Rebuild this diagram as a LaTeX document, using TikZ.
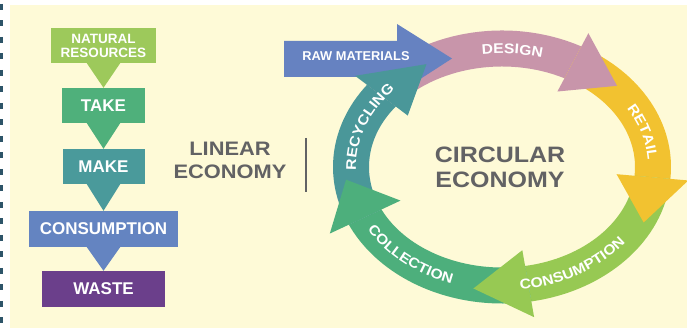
\documentclass[tikz,border=0pt]{standalone}
\usepackage{fontspec}
\setmainfont{Liberation Sans}
\newfontfamily\headfont{Liberation Sans}[FakeStretch=1.12]
\usetikzlibrary{calc,decorations.text}

\definecolor{paper}{HTML}{FEFAD7}
\definecolor{edgeblue}{HTML}{2D5468}
\definecolor{cNat}{HTML}{9DC95B}
\definecolor{cTake}{HTML}{4FB07B}
\definecolor{cMake}{HTML}{4A9A9B}
\definecolor{cCons}{HTML}{6484C1}
\definecolor{cWaste}{HTML}{6B3F8B}
\definecolor{cDesign}{HTML}{C895AA}
\definecolor{cRetail}{HTML}{F2C230}
\definecolor{cUse}{HTML}{97C953}
\definecolor{cCollect}{HTML}{4DAF7C}
\definecolor{cRecycle}{HTML}{4A9799}
\definecolor{cRaw}{HTML}{6682C1}
\definecolor{headgray}{HTML}{626264}

% ring radii (in pt): outer, middle, inner
\newcommand\Rxo{169}\newcommand\Ryo{136.5}
\newcommand\Rxm{151}\newcommand\Rym{118.5}
\newcommand\Rxi{133}\newcommand\Ryi{100.5}

\newcommand\labelfont{\headfont\bfseries\fontsize{14pt}{14pt}\selectfont}

% down-pointing wedge below a stage box, tip on the next box
% #1 colour, #2 upper node, #3 lower node
\newcommand\pointer[3]{%
  \fill[#1] ($(#2.south)+(-17,0.5)$) -- ($(#2.south)+(17,0.5)$) -- (#3.north) -- cycle;}

% band of the ring, running clockwise from #3 to #4
% #1 colour, #2 name, #3 start angle, #4 end angle
\newcommand\ringbody[4]{%
  \fill[#1] ({\Rxo*cos(#3)},{\Ryo*sin(#3)}) arc[start angle=#3, end angle=#4, x radius=\Rxo, y radius=\Ryo]
    -- ({\Rxi*cos(#4)},{\Ryi*sin(#4)}) arc[start angle=#4, end angle=#3, x radius=\Rxi, y radius=\Ryi] -- cycle;
  \coordinate (#2-o) at ({\Rxo*cos(#4)},{\Ryo*sin(#4)});
  \coordinate (#2-i) at ({\Rxi*cos(#4)},{\Ryi*sin(#4)});
  \coordinate (#2-m) at ({\Rxm*cos(#4)},{\Rym*sin(#4)});}

% arrowhead at the end of a band
% #1 colour, #2 name, #3 barb overhang, #4 turn of the tip, #5 tip length
\newcommand\ringhead[5]{%
  \coordinate (#2-tip) at ($(#2-m)!#5!#4:(#2-o)$);
  \fill[#1] (#2-o) -- ($(#2-o)!-#3!(#2-i)$) -- (#2-tip) -- ($(#2-i)!-#3!(#2-o)$) -- (#2-i) -- cycle;}

% white label set along an elliptic arc
% #1 text, #2 start angle, #3 end angle, #4 x radius, #5 y radius
\newcommand\ringlabel[5]{%
  \path[decorate, decoration={text along path, text align=center,
      text={|\color{white}\labelfont|#1}}]
    ({#4*cos(#2)},{#5*sin(#2)}) arc[start angle=#2, end angle=#3, x radius=#4, y radius=#5];}

\begin{document}
\begin{tikzpicture}[x=1pt, y=1pt,
  stage/.style={fill=#1, text=white, inner sep=0pt, align=center,
    minimum height=35pt, font=\bfseries\fontsize{17pt}{17pt}\selectfont},
  heading/.style={text=headgray, inner sep=0pt, align=center}]
\useasboundingbox (0,0) rectangle (687,328);
\fill[white] (0,0) rectangle (687,328);
\fill[paper] (10,0) rectangle (687,323);
\draw[edgeblue, line width=3pt, dash pattern=on 6pt off 10.5pt] (1.5,324) -- (1.5,0);

% linear economy chain
\node[stage=cNat, minimum width=105pt,
  font=\bfseries\fontsize{13.5pt}{14pt}\selectfont] (nat) at (103.5,282.5) {NATURAL\\RESOURCES};
\node[stage=cTake, minimum width=83pt] (take) at (103.5,222.5) {TAKE};
\node[stage=cMake, minimum width=82pt] (make) at (103.5,161.5) {MAKE};
\node[stage=cCons, minimum width=149pt, minimum height=36pt] (cons) at (103.5,99) {CONSUMPTION};
\node[stage=cWaste, minimum width=123pt, minimum height=36pt] (waste) at (103.5,39) {WASTE};
\pointer{cNat}{nat}{take}
\pointer{cTake}{take}{make}
\pointer{cMake}{make}{cons}
\pointer{cCons}{cons}{waste}

% headings and divider
\node[heading, font=\headfont\bfseries\fontsize{19.5pt}{23pt}\selectfont] (linear) at (230,167.5) {LINEAR\\ECONOMY};
\coordinate (divtop) at (306,190);
\coordinate (divbot) at (306,136);
\draw[headgray, line width=2pt] (divtop) -- (divbot);
\node[heading, font=\headfont\bfseries\fontsize{22.3pt}{25pt}\selectfont] (circular) at (500,160.5) {CIRCULAR\\ECONOMY};

% circular economy ring
\begin{scope}[shift={(502,161)}]
\ringbody{cDesign}{design}{143}{62}
\ringbody{cRetail}{retail}{62}{-5}
\ringbody{cUse}{use}{-5}{-80}
\ringbody{cCollect}{collect}{-80}{-155}
\ringbody{cRecycle}{recycle}{205}{143}
\end{scope}

% raw materials feed
\fill[cRaw] (284,251) -- (397,251) -- (397,234) -- (452,269.5) -- (397,304) -- (397,287) -- (284,287) -- cycle;
\node[font=\bfseries\fontsize{12.8pt}{12.8pt}\selectfont, text=white, inner sep=0pt] (rawtext) at (356,271.5) {RAW MATERIALS};

\ringhead{cDesign}{design}{15pt}{-90}{50pt}
\ringhead{cRetail}{retail}{18pt}{-96}{46pt}
\ringhead{cUse}{use}{16pt}{-95}{55pt}
\ringhead{cCollect}{collect}{21pt}{-88}{42pt}
\ringhead{cRecycle}{recycle}{15pt}{-108}{55pt}

\begin{scope}[shift={(502,161)}]
\ringlabel{DESIGN}{120.7}{50.7}{146}{113.5}
\ringlabel{RETAIL}{51.2}{-18.8}{146}{113.5}
\ringlabel{RECYCLING}{200.7}{120.7}{146}{113.5}
\ringlabel{CONSUMPTION}{-99}{-19}{156}{123.5}
\ringlabel{COLLECTION}{-171.1}{-91.1}{156}{123.5}
\end{scope}
\end{tikzpicture}
\end{document}
